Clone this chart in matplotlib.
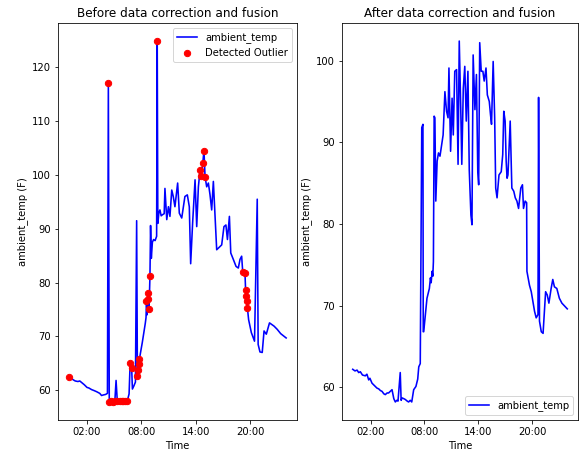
import numpy as np
import pandas as pd
import matplotlib
matplotlib.use('Agg')
import matplotlib.pyplot as plt
import matplotlib.dates as mdates

# raw series (before correction), time of day and temperature in F
raw_times = ['00:00', '00:15', '00:30', '00:42', '01:00', '01:12', '01:25', '01:42', '02:00', '02:12',
             '02:30', '02:48', '03:04', '03:24', '03:36', '03:48', '04:03', '04:15', '04:21', '04:27',
             '04:40', '04:52', '05:04', '05:12', '05:20', '05:35', '05:48', '06:00', '06:12', '06:22',
             '06:30', '06:38', '06:45', '06:55', '07:00', '07:10', '07:20', '07:28', '07:33', '07:37',
             '07:41', '07:46', '07:55', '08:05', '08:15', '08:25', '08:30', '08:33', '08:37', '08:42',
             '08:46', '08:50', '08:56', '09:00', '09:05', '09:12', '09:20', '09:30', '09:40', '09:44',
             '09:48', '09:55', '10:02', '10:10', '10:18', '10:30', '10:35', '10:47', '10:58', '11:08',
             '11:20', '11:30', '11:41', '11:59', '12:10', '12:26', '12:47', '13:03', '13:16', '13:25',
             '13:38', '13:54', '14:05', '14:16', '14:27', '14:36', '14:45', '14:53', '15:00', '15:11',
             '15:22', '15:33', '15:44', '15:55', '16:17', '16:39', '16:50', '17:05', '17:18', '17:28',
             '17:41', '17:50', '18:07', '18:25', '18:40', '18:51', '19:02', '19:09', '19:24', '19:28',
             '19:32', '19:36', '19:40', '19:48', '20:06', '20:27', '20:45', '20:51', '21:03', '21:18',
             '21:30', '21:45', '22:06', '22:36', '22:57', '23:20', '23:56']
raw_temp = [62.4, 62.2, 61.9, 61.7, 61.6, 61.7, 61.4, 61.0, 60.5, 60.4,
            60.1, 59.9, 59.7, 59.4, 59.0, 59.1, 59.2, 59.4, 117.1, 57.8,
            57.9, 57.8, 58.0, 61.8, 58.0, 57.9, 58.0, 57.9, 58.0, 58.0,
            58.4, 59.3, 65.0, 64.2, 60.2, 60.8, 61.5, 91.5, 62.6, 63.8,
            64.8, 65.7, 67.2, 68.8, 70.6, 72.4, 73.5, 76.5, 74.0, 77.0,
            78.1, 75.0, 81.3, 90.6, 84.5, 87.5, 88.0, 87.8, 88.6, 124.9,
            91.0, 93.0, 93.5, 92.4, 92.6, 92.8, 97.5, 91.7, 94.1, 92.3,
            97.2, 96.0, 94.1, 98.5, 92.9, 92.0, 96.0, 96.3, 94.1, 83.5,
            91.1, 99.1, 90.4, 97.8, 100.9, 99.8, 102.2, 104.5, 99.7, 97.8,
            98.5, 96.3, 93.5, 98.8, 86.1, 86.7, 87.0, 90.4, 90.7, 88.0,
            92.3, 85.5, 84.3, 83.0, 82.7, 84.3, 84.9, 82.0, 81.7, 78.7,
            77.5, 76.5, 75.3, 73.1, 70.7, 69.1, 95.5, 68.5, 67.1, 67.0,
            71.0, 70.4, 72.5, 71.9, 71.3, 70.5, 69.7]

# points flagged as outliers
outlier_times = ['00:00', '04:21', '04:27', '04:40', '04:52', '05:04', '05:20', '05:35', '05:48', '06:00',
                 '06:12', '06:22', '06:45', '06:55', '07:33', '07:37', '07:41', '07:46', '08:33', '08:42',
                 '08:46', '08:50', '08:56', '09:44', '14:27', '14:36', '14:45', '14:53', '15:00', '19:09',
                 '19:24', '19:28', '19:32', '19:36', '19:40']

# corrected and fused series
fix_times = ['00:00', '00:15', '00:29', '00:40', '00:51', '01:05', '01:24', '01:35', '01:47', '01:55',
             '02:09', '02:20', '02:31', '02:42', '02:54', '03:05', '03:16', '03:28', '03:38', '03:50',
             '04:00', '04:12', '04:23', '04:35', '04:45', '04:55', '05:03', '05:18', '05:24', '05:30',
             '05:42', '05:52', '06:05', '06:14', '06:25', '06:35', '06:48', '07:03', '07:15', '07:22',
             '07:32', '07:42', '07:50', '07:52', '07:55', '08:06', '08:17', '08:25', '08:33', '08:40',
             '08:45', '08:51', '08:56', '09:00', '09:05', '09:10', '09:16', '09:25', '09:34', '09:44',
             '09:55', '10:05', '10:17', '10:28', '10:38', '10:44', '10:55', '11:05', '11:13', '11:23',
             '11:35', '11:45', '11:53', '12:03', '12:10', '12:20', '12:30', '12:40', '12:51', '13:00',
             '13:11', '13:18', '13:26', '13:38', '13:48', '13:57', '14:03', '14:10', '14:20', '14:31',
             '14:40', '14:52', '15:01', '15:14', '15:22', '15:29', '15:40', '15:50', '15:57', '16:06',
             '16:19', '16:34', '16:44', '16:51', '17:00', '17:07', '17:13', '17:19', '17:34', '17:45',
             '17:58', '18:08', '18:19', '18:30', '18:45', '18:56', '19:03', '19:14', '19:24', '19:26',
             '19:43', '19:55', '20:06', '20:17', '20:28', '20:40', '20:44', '20:50', '21:02', '21:14',
             '21:31', '21:42', '21:53', '22:08', '22:19', '22:30', '22:46', '23:03', '23:20', '23:56']
fix_temp = [62.2, 62.0, 62.1, 61.8, 61.9, 61.5, 61.4, 61.6, 60.9, 61.1,
            60.5, 60.3, 60.1, 59.9, 59.8, 59.6, 59.5, 59.2, 59.1, 59.3,
            59.3, 59.5, 59.7, 58.6, 58.2, 58.4, 58.3, 61.8, 58.4, 58.7,
            58.6, 58.5, 58.3, 58.2, 58.4, 58.2, 59.7, 60.1, 61.0, 62.5,
            62.9, 91.8, 92.2, 66.8, 66.8, 68.9, 70.9, 71.5, 72.1, 73.4,
            72.8, 74.2, 73.6, 75.4, 93.2, 93.0, 82.8, 87.7, 88.7, 88.3,
            89.7, 90.9, 96.2, 93.8, 93.0, 99.1, 88.9, 95.4, 90.9, 98.7,
            98.9, 87.3, 102.4, 94.2, 87.3, 96.6, 99.3, 92.6, 98.7, 86.6,
            81.1, 79.9, 100.7, 94.0, 98.3, 86.4, 84.8, 102.2, 98.7, 98.7,
            97.5, 99.1, 95.8, 95.0, 93.4, 92.2, 99.9, 93.0, 84.4, 83.2,
            86.0, 86.4, 88.5, 93.8, 92.6, 87.7, 85.6, 86.0, 92.6, 84.4,
            84.0, 83.2, 82.8, 81.9, 84.4, 84.8, 81.9, 82.8, 82.6, 74.2,
            72.5, 71.7, 70.5, 69.3, 68.5, 68.9, 95.5, 68.1, 66.8, 66.6,
            71.7, 71.3, 70.3, 72.1, 73.2, 72.3, 72.1, 70.9, 70.3, 69.6]


def to_dt(times):
    return pd.to_datetime(['2023-01-01 ' + t for t in times])


raw = pd.Series(raw_temp, index=to_dt(raw_times))
fixed = pd.Series(fix_temp, index=to_dt(fix_times))
outliers = raw.loc[to_dt(outlier_times)]

fig = plt.figure(figsize=(581 / 72, 452 / 72), dpi=72)
ax1 = fig.add_axes([58 / 581, 32 / 452, 239 / 581, 397 / 452])
ax2 = fig.add_axes([342 / 581, 32 / 452, 236 / 581, 397 / 452])

ax1.plot(raw.index, raw.values, color='blue', lw=1.6, label='ambient_temp')
ax1.scatter(outliers.index, outliers.values, color='red', s=40, zorder=3, label='Detected Outlier')
ax1.set_title('Before data correction and fusion')
ax1.legend(loc='upper right')

ax2.plot(fixed.index, fixed.values, color='blue', lw=1.6, label='ambient_temp')
ax2.set_title('After data correction and fusion')
ax2.legend(loc='lower right')

for ax in (ax1, ax2):
    ax.set_xlabel('Time')
    ax.set_ylabel('ambient_temp (F)')
    ax.xaxis.set_major_locator(mdates.HourLocator(byhour=[2, 8, 14, 20]))
    ax.xaxis.set_major_formatter(mdates.DateFormatter('%H:%M'))

fig.savefig('out.png', dpi=72)
